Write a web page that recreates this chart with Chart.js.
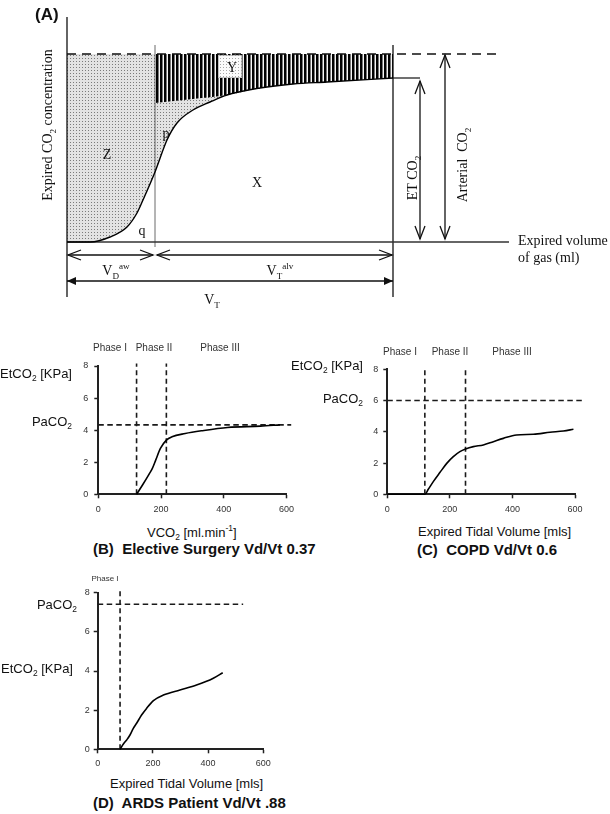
<!DOCTYPE html>
<html><head><meta charset="utf-8">
<script src="https://cdn.jsdelivr.net/npm/chart.js@4/dist/chart.umd.min.js"></script>
<style>
html,body{margin:0;padding:0;background:#fff;}
body{width:610px;height:814px;position:relative;overflow:hidden;}
canvas{position:absolute;}
.t{position:absolute;white-space:nowrap;line-height:1;color:#111;}
.serif{font-family:"Liberation Serif","Times New Roman",serif;font-size:14px;}
.sans{font-family:"Liberation Sans",Arial,sans-serif;font-size:13px;}
.ph{font-size:10px;color:#333;}
.ttl{font-weight:bold;font-size:15px;}
.c{transform:translate(-50%,-50%);}
.l{transform:translateY(-50%);}
.r{transform:translate(-100%,-50%);}
.rot{transform:translate(-50%,-50%) rotate(-90deg);}
sub,sup{font-size:65%;line-height:0;}
</style></head><body>
<canvas id="cA" width="610" height="310" style="left:0;top:0"></canvas>
<canvas id="cB" width="240" height="170" style="left:60px;top:350px"></canvas>
<canvas id="cC" width="260" height="168" style="left:340px;top:352px"></canvas>
<canvas id="cD" width="230" height="200" style="left:60px;top:572px"></canvas>

<!-- Panel A text -->
<div class="t sans l" style="left:35px;top:14px;font-weight:bold;font-size:17px">(A)</div>
<div class="t serif rot" style="left:48px;top:125px">Expired CO<sub>2</sub> concentration</div>
<div class="t serif c" style="left:107px;top:155px">Z</div>
<div class="t serif c" style="left:257px;top:183px">X</div>
<div class="t serif c" style="left:232px;top:68px">Y</div>
<div class="t serif c" style="left:166px;top:134px">p</div>
<div class="t serif c" style="left:142px;top:231px">q</div>
<div class="t serif rot" style="left:413px;top:178px">ET CO<sub>2</sub></div>
<div class="t serif rot" style="left:463px;top:165px">Arterial&nbsp; CO<sub>2</sub></div>
<div class="t serif l" style="left:518px;top:241px">Expired volume</div>
<div class="t serif l" style="left:518px;top:258px">of gas (ml)</div>
<div class="t serif c" style="left:116px;top:271px">V<sub>D</sub><sup>aw</sup></div>
<div class="t serif c" style="left:280px;top:271px">V<sub>T</sub><sup>alv</sup></div>
<div class="t serif c" style="left:212px;top:300px">V<sub>T</sub></div>

<!-- Panel B text -->
<div class="t sans ph c" style="left:110px;top:348px">Phase I</div>
<div class="t sans ph c" style="left:154px;top:348px">Phase II</div>
<div class="t sans ph c" style="left:220px;top:348px">Phase III</div>
<div class="t sans r" style="left:72px;top:373px">EtCO<sub>2</sub> [KPa]</div>
<div class="t sans r" style="left:72px;top:421px">PaCO<sub>2</sub></div>
<div class="t sans l" style="left:147px;top:532px">VCO<sub>2</sub> [ml.min<sup>-1</sup>]</div>
<div class="t sans ttl l" style="left:93px;top:548px">(B)&nbsp; Elective Surgery Vd/Vt 0.37</div>

<!-- Panel C text -->
<div class="t sans ph c" style="left:400px;top:352px">Phase I</div>
<div class="t sans ph c" style="left:450px;top:352px">Phase II</div>
<div class="t sans ph c" style="left:512px;top:352px">Phase III</div>
<div class="t sans r" style="left:363px;top:365px">EtCO<sub>2</sub> [KPa]</div>
<div class="t sans r" style="left:363px;top:398px">PaCO<sub>2</sub></div>
<div class="t sans l" style="left:418px;top:531px">Expired Tidal Volume [mls]</div>
<div class="t sans ttl l" style="left:417px;top:549px">(C)&nbsp; COPD Vd/Vt 0.6</div>

<!-- Panel D text -->
<div class="t sans c" style="left:105px;top:579px;font-size:8px;color:#333">Phase I</div>
<div class="t sans r" style="left:77px;top:604px">PaCO<sub>2</sub></div>
<div class="t sans r" style="left:73px;top:668px">EtCO<sub>2</sub> [KPa]</div>
<div class="t sans l" style="left:110px;top:783px">Expired Tidal Volume [mls]</div>
<div class="t sans ttl l" style="left:93px;top:802px">(D)&nbsp; ARDS Patient Vd/Vt .88</div>

<script>
// ---------- Panel A (schematic capnogram, arbitrary units) ----------
const aVolume = [0, 23, 43, 60, 70, 76, 88, 100, 110, 126, 143, 160, 193, 226, 260, 326];
const aCO2    = [0, 0, 5, 15, 29, 42, 70, 102, 119, 132, 140, 147, 154, 158, 160, 164];
const aStripeVolume = [88, 126, 160, 193, 226, 260, 326];
const aStripeCO2    = [139, 143, 147, 154, 158, 160, 164];
const aArterialCO2 = 188;
const aEndTidalCO2 = 164;
const aDeadSpaceVolume = 88;
const aTidalVolume = 326;
const aYBoxVolume = [151, 175];
const aYBoxCO2 = [164, 187];

// ---------- Panel B: elective surgery ----------
const bVolume = [122, 141, 162, 172, 183, 198, 217, 235, 277, 329, 412, 517, 579];
const bEtCO2  = [0, 0.58, 1.26, 1.6, 2.13, 2.86, 3.38, 3.59, 3.79, 3.96, 4.17, 4.25, 4.33];
const bPhaseLimits = [122, 217];
const bPaCO2 = 4.33;

// ---------- Panel C: COPD ----------
const cVolume = [0, 120, 131, 147, 168, 190, 211, 232, 250, 275, 307, 339, 371, 413, 467, 520, 563, 595];
const cEtCO2  = [0, 0, 0.32, 0.81, 1.39, 1.98, 2.41, 2.73, 2.9, 3.05, 3.16, 3.37, 3.58, 3.8, 3.84, 3.97, 4.05, 4.16];
const cPhaseLimits = [120, 250];
const cPaCO2 = 6;

// ---------- Panel D: ARDS ----------
const dVolume = [81, 93, 105, 117, 129, 141, 159, 177, 202, 238, 298, 358, 419, 453];
const dEtCO2  = [0, 0.27, 0.48, 0.73, 1.07, 1.33, 1.75, 2.09, 2.49, 2.77, 3.03, 3.28, 3.63, 3.91];
const dPhaseLimits = [81];
const dPaCO2 = 7.41;

const xTicks = [0, 200, 400, 600];
const yTicks = [0, 2, 4, 6, 8];

function xy(xs, ys) { return xs.map((x, i) => ({x: x, y: ys[i]})); }

function makePattern(w, h, draw) {
  const c = document.createElement('canvas');
  c.width = w; c.height = h;
  const g = c.getContext('2d');
  draw(g);
  return g.createPattern(c, 'repeat');
}
const dotPattern = makePattern(3, 3, g => {
  g.fillStyle = '#e2e2e2'; g.fillRect(0, 0, 3, 3);
  g.fillStyle = '#7a7a7a'; g.fillRect(1, 1, 1, 1);
});
const lightDotPattern = makePattern(3, 3, g => {
  g.fillStyle = '#fbfbfb'; g.fillRect(0, 0, 3, 3);
  g.fillStyle = '#a8a8a8'; g.fillRect(1, 1, 1, 1);
});
const stripePattern = makePattern(4, 1, g => {
  g.fillStyle = '#000'; g.fillRect(0, 0, 2, 1);
  g.fillStyle = '#777'; g.fillRect(2, 0, 1, 1);
  g.fillStyle = '#f6f6f6'; g.fillRect(3, 0, 1, 1);
});

// ---------- Panel A chart ----------
const aVdRow = -13, aVtRow = -39;
const aEtArrowX = 353, aArtArrowX = 378;
const aArrows = [
  [1, aVdRow, aDeadSpaceVolume - 2, aVdRow, 'open'],
  [aDeadSpaceVolume + 2, aVdRow, aTidalVolume - 1, aVdRow, 'open'],
  [0, aVtRow, aTidalVolume, aVtRow, 'solid'],
  [aEtArrowX, aEndTidalCO2 - 3, aEtArrowX, 3, 'open'],
  [aArtArrowX, aArterialCO2 - 1, aArtArrowX, 3, 'open']
];

const schematicPlugin = {
  id: 'schematic',
  afterDatasetsDraw(chart) {
    const ctx = chart.ctx, sx = chart.scales.x, sy = chart.scales.y;
    // Y box
    const bx0 = sx.getPixelForValue(aYBoxVolume[0]), bx1 = sx.getPixelForValue(aYBoxVolume[1]);
    const by0 = sy.getPixelForValue(aYBoxCO2[1]), by1 = sy.getPixelForValue(aYBoxCO2[0]);
    ctx.save();
    ctx.fillStyle = lightDotPattern;
    ctx.fillRect(bx0, by0, bx1 - bx0, by1 - by0);
    ctx.strokeStyle = '#888'; ctx.lineWidth = 1; ctx.setLineDash([1, 1]);
    ctx.strokeRect(bx0 + 0.5, by0 + 0.5, bx1 - bx0 - 1, by1 - by0 - 1);
    ctx.restore();
    // arrows
    ctx.save();
    ctx.strokeStyle = '#111'; ctx.fillStyle = '#111'; ctx.lineWidth = 1.3;
    aArrows.forEach(a => {
      const x1 = sx.getPixelForValue(a[0]), y1 = sy.getPixelForValue(a[1]);
      const x2 = sx.getPixelForValue(a[2]), y2 = sy.getPixelForValue(a[3]);
      ctx.beginPath(); ctx.moveTo(x1, y1); ctx.lineTo(x2, y2); ctx.stroke();
      const len = Math.hypot(x2 - x1, y2 - y1);
      const ux = (x2 - x1) / len, uy = (y2 - y1) / len;
      const nx = -uy, ny = ux;
      [[x2, y2, ux, uy], [x1, y1, -ux, -uy]].forEach(([tx, ty, dx, dy]) => {
        if (a[4] === 'open') {
          const L = 13, W = 5;
          ctx.beginPath();
          ctx.moveTo(tx - dx * L + nx * W, ty - dy * L + ny * W);
          ctx.lineTo(tx, ty);
          ctx.lineTo(tx - dx * L - nx * W, ty - dy * L - ny * W);
          ctx.stroke();
        } else {
          const L = 9, W = 4;
          ctx.beginPath();
          ctx.moveTo(tx, ty);
          ctx.lineTo(tx - dx * L + nx * W, ty - dy * L + ny * W);
          ctx.lineTo(tx - dx * L - nx * W, ty - dy * L - ny * W);
          ctx.closePath(); ctx.fill();
        }
      });
    });
    ctx.restore();
  }
};

const aDatasets = [
  // 0: capnogram curve
  {data: xy(aVolume, aCO2), borderColor: '#000', borderWidth: 1.4, cubicInterpolationMode: 'monotone', order: 0, fill: false},
  // 1: dead-space area (dotted) from arterial level down to the curve
  {data: [{x: 0, y: aArterialCO2}, {x: aTidalVolume, y: aArterialCO2}], borderWidth: 0, borderColor: 'rgba(0,0,0,0)',
   backgroundColor: dotPattern, fill: {target: 0}, order: 9},
  // 2: alveolar dead space (striped) bottom boundary
  {data: xy(aStripeVolume, aStripeCO2), borderWidth: 0, borderColor: 'rgba(0,0,0,0)', cubicInterpolationMode: 'monotone',
   backgroundColor: stripePattern, fill: {target: 3}, order: 8},
  // 3: striped top boundary
  {data: [{x: aDeadSpaceVolume, y: aArterialCO2}, {x: aTidalVolume, y: aArterialCO2}], borderWidth: 0, borderColor: 'rgba(0,0,0,0)', fill: false, order: 8},
  // 4: arterial CO2 dashed level
  {data: [{x: 0, y: aArterialCO2}, {x: 430, y: aArterialCO2}], borderColor: '#111', borderWidth: 1.3, borderDash: [9, 6], fill: false, order: 1},
  // 5: volume axis (baseline)
  {data: [{x: 0, y: 0}, {x: 442, y: 0}], borderColor: '#333', borderWidth: 1.6, fill: false, order: 1},
  // 6: concentration axis
  {data: [{x: 0, y: -55}, {x: 0, y: 225}], borderColor: '#111', borderWidth: 1.3, fill: false, order: 1},
  // 7: end of tidal volume
  {data: [{x: aTidalVolume, y: -55}, {x: aTidalVolume, y: 197}], borderColor: '#111', borderWidth: 1.3, fill: false, order: 1},
  // 8: end of airway dead space
  {data: [{x: aDeadSpaceVolume, y: -5}, {x: aDeadSpaceVolume, y: 197}], borderColor: '#444', borderWidth: 0.8, fill: false, order: 1},
  // 9: end-tidal plateau marker
  {data: [{x: aTidalVolume, y: aEndTidalCO2}, {x: aEtArrowX, y: aEndTidalCO2}], borderColor: '#222', borderWidth: 1.3, fill: false, order: 1}
];
aDatasets.forEach(d => Object.assign(d, {showLine: true, pointRadius: 0, clip: false}));

new Chart(document.getElementById('cA'), {
  type: 'scatter',
  data: {datasets: aDatasets},
  options: {
    responsive: false, animation: false, events: [],
    layout: {padding: 0},
    plugins: {legend: {display: false}, tooltip: {enabled: false}},
    scales: {
      x: {type: 'linear', display: false, min: -67, max: 543},
      y: {type: 'linear', display: false, min: -68, max: 242}
    }
  },
  plugins: [schematicPlugin]
});

// ---------- Panels B, C, D ----------
function curvePanel(id, o) {
  const ds = [{data: xy(o.vol, o.co2), borderColor: '#000', borderWidth: 1.6, cubicInterpolationMode: 'monotone', order: 0}];
  o.phases.forEach(v => ds.push({data: [{x: v, y: 0}, {x: v, y: o.phaseTop}], borderColor: '#1a1a1a', borderWidth: 1.6, borderDash: [5, 3.5], order: 1}));
  ds.push({data: [{x: 0, y: o.paco2}, {x: o.paEnd, y: o.paco2}], borderColor: '#1a1a1a', borderWidth: 1.6, borderDash: [5.5, 3.5], order: 1});
  ds.forEach(d => Object.assign(d, {showLine: true, pointRadius: 0, fill: false, clip: false}));
  const tickFont = {family: "'Liberation Sans', Arial, sans-serif", size: 9};
  new Chart(document.getElementById(id), {
    type: 'scatter',
    data: {datasets: ds},
    options: {
      responsive: false, animation: false, events: [],
      layout: {padding: {top: o.padTop, right: o.padRight, left: 0, bottom: 0}},
      plugins: {legend: {display: false}, tooltip: {enabled: false}},
      scales: {
        x: {
          type: 'linear', position: 'bottom', min: 0, max: 600,
          afterBuildTicks: s => { s.ticks = xTicks.map(v => ({value: v})); },
          afterFit: s => { s.height = o.xH; },
          ticks: {font: tickFont, color: '#333', padding: o.padX, maxRotation: 0, autoSkip: false},
          grid: {drawOnChartArea: false, tickLength: 4, tickColor: '#222', tickWidth: 1.5},
          border: {display: true, color: '#222', width: 2}
        },
        y: {
          type: 'linear', position: 'left', min: 0, max: 8,
          afterBuildTicks: s => { s.ticks = yTicks.map(v => ({value: v})); },
          afterFit: s => { s.width = o.yW; },
          ticks: {font: tickFont, color: '#333', padding: o.padY, autoSkip: false},
          grid: {drawOnChartArea: false, tickLength: 4, tickColor: '#222', tickWidth: 1.5},
          border: {display: true, color: '#222', width: 2}
        }
      }
    }
  });
}

curvePanel('cB', {vol: bVolume, co2: bEtCO2, phases: bPhaseLimits, phaseTop: 8.15, paco2: bPaCO2, paEnd: 615,
  padTop: 16, padRight: 10, yW: 38.3, xH: 25.7, padX: 6, padY: 6});
curvePanel('cC', {vol: cVolume, co2: cEtCO2, phases: cPhaseLimits, phaseTop: 8.17, paco2: cPaCO2, paEnd: 632,
  padTop: 17.3, padRight: 25, yW: 47.3, xH: 25.7, padX: 6, padY: 5});
curvePanel('cD', {vol: dVolume, co2: dEtCO2, phases: dPhaseLimits, phaseTop: 8.2, paco2: dPaCO2, paEnd: 527,
  padTop: 20.7, padRight: 26.7, yW: 37.7, xH: 22.7, padX: 5, padY: 4});
</script>
</body></html>
